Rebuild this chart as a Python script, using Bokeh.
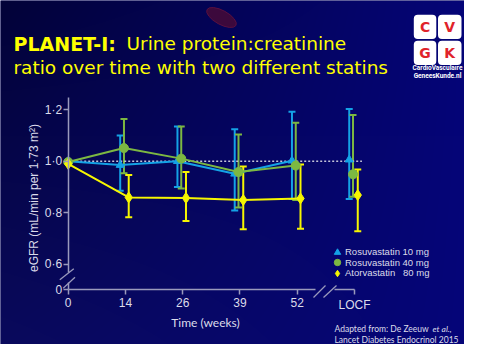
import numpy as np
from bokeh.plotting import figure
from bokeh.models import (Range1d, LinearAxis, FixedTicker, CustomJSTickFormatter, Whisker,
                          TeeHead, ColumnDataSource, Label, Legend, LegendItem, BoxAnnotation)
from bokeh.embed import file_html
from bokeh.resources import INLINE

# ---------------- data ----------------
weeks = ["0", "14", "26", "39", "52", "LOCF"]
y_ticks = [0.6, 0.8, 1.0, 1.2]
y_zero_tick = 0.5          # position that carries the "0" label below the axis break
reference_level = 1.0

rosu10 = [1.000, 0.985, 1.000, 0.951, 1.002, 1.006]
rosu10_hi = [None, 1.100, 1.135, 1.124, 1.192, 1.203]
rosu10_lo = [None, 0.885, 0.900, 0.808, 0.853, 0.853]

rosu40 = [0.997, 1.051, 1.010, 0.958, 0.983, 0.949]
rosu40_hi = [None, 1.164, 1.135, 1.104, 1.150, 1.180]
rosu40_lo = [None, 0.953, 0.894, 0.820, 0.849, 0.862]

atorva80 = [0.990, 0.859, 0.857, 0.849, 0.855, 0.868]
atorva80_hi = [None, 0.946, 0.958, 0.979, 0.987, 0.968]
atorva80_lo = [None, 0.782, 0.767, 0.735, 0.737, 0.727]

series_names = ["Rosuvastatin 10 mg", "Rosuvastatin 40 mg", "Atorvastatin\u00a0\u00a0\u00a080 mg"]

# ---------------- layout helpers (pixel position -> data) ----------------
W, H = 464, 344
X0, DX = 67.7, 57.26      # pixel x of week index 0, px per index
Y1, DY = 160.7, 257.0     # pixel y of value 1.0, px per unit


def X(sx):
    return (sx - X0) / DX


def Y(sy):
    return 1.0 - (sy - Y1) / DY


xs, xe = X(0), X(W)
ys, ye = Y(H), Y(0)

AXIS_COL = "#9a9abc"
LABEL_COL = "#dcdcea"
BLUE = "#14a2e6"
GREEN = "#7cb842"
YELLOW = "#f6f600"

p = figure(width=W, height=H, x_range=Range1d(xs, xe), y_range=Range1d(ys, ye),
           x_axis_location=None, y_axis_location=None, toolbar_location=None,
           output_backend="svg", min_border=0, outline_line_color=None)
p.grid.visible = False
p.background_fill_color = "#03035a"
p.border_fill_color = "#03035a"

# background gradient
yy, xx = np.mgrid[0:H, 0:W]
u = xx / 480.0
v = yy / 360.0
B = 56 + 66 * u + 38 * v - 38 * u * v
RG = 2 + 8 * v * (1 - u) + 3 * u
rgba = np.zeros((H, W, 4), dtype=np.uint8)
rgba[..., 0] = RG
rgba[..., 1] = RG
rgba[..., 2] = B
rgba[..., 3] = 255
img = np.ascontiguousarray(rgba.view(np.uint32).reshape(H, W)[::-1])
p.image_rgba(image=[img], x=xs, y=ys, dw=xe - xs, dh=ye - ys, level="image")

# decorative red blood cell
p.ellipse(x=[X(221)], y=[Y(17)], width=33, height=14, width_units="screen",
          height_units="screen", angle=-0.5, fill_color="#420a3a", line_color="#5a1040",
          line_width=1, fill_alpha=0.9)

# ---------------- axes ----------------
fmt_y = CustomJSTickFormatter(code="return tick == 0.5 ? '0' : tick.toFixed(1).replace('.', '\u00b7')")
fmt_x = CustomJSTickFormatter(args=dict(labels=weeks), code="return labels[Math.round(tick)]")


def style_axis(ax, standoff):
    ax.axis_line_color = AXIS_COL
    ax.axis_line_width = 1.5
    ax.major_tick_line_color = AXIS_COL
    ax.major_tick_line_width = 1.5
    ax.major_tick_in = 0
    ax.major_tick_out = 5
    ax.minor_tick_line_color = None
    ax.major_label_text_color = LABEL_COL
    ax.major_label_text_font = "Liberation Sans"
    ax.major_label_text_font_size = "12px"
    ax.major_label_standoff = standoff


main_x_ticks = list(range(len(weeks) - 1))
locf_idx = len(weeks) - 1

y_main = LinearAxis(fixed_location=0, bounds=(Y(272), Y(96.7)),
                    ticker=FixedTicker(ticks=y_ticks), formatter=fmt_y)
y_zero = LinearAxis(fixed_location=0, bounds=(y_zero_tick, Y(282)),
                    ticker=FixedTicker(ticks=[y_zero_tick]), formatter=fmt_y)
y_title = LinearAxis(fixed_location=0, bounds=(Y(291), Y(104)),
                     ticker=FixedTicker(ticks=y_ticks), formatter=fmt_y,
                     axis_label="eGFR (mL/min per 1\u00b773 m\u00b2)")
x_main = LinearAxis(fixed_location=y_zero_tick, bounds=(0, X(315)),
                    ticker=FixedTicker(ticks=main_x_ticks), formatter=fmt_x)
x_locf = LinearAxis(fixed_location=y_zero_tick, bounds=(X(334), locf_idx),
                    ticker=FixedTicker(ticks=[locf_idx]), formatter=fmt_x)
x_title = LinearAxis(fixed_location=y_zero_tick, bounds=(0, 2 * X(205)),
                     ticker=FixedTicker(ticks=main_x_ticks), formatter=fmt_x,
                     axis_label="Time (weeks)")

for ax in (y_main, y_zero, y_title):
    style_axis(ax, 1)
for ax in (x_main, x_locf, x_title):
    style_axis(ax, 3)
for ax in (y_title, x_title):
    ax.axis_line_color = None
    ax.major_tick_line_color = None
    ax.major_label_text_alpha = 0
    ax.axis_label_text_color = LABEL_COL
    ax.axis_label_text_font_style = "normal"
y_title.axis_label_text_font = "Liberation Sans"
y_title.axis_label_text_font_size = "12px"
y_title.axis_label_standoff = 23
x_title.axis_label_text_font = "Lato"
x_title.axis_label_text_font_size = "12px"
x_title.axis_label_standoff = 20

for ax in (y_main, y_zero, y_title):
    p.add_layout(ax, "left")
for ax in (x_main, x_locf, x_title):
    p.add_layout(ax, "below")

# axis break marks
p.segment(x0=[X(59.3), X(62.7)], y0=[Y(279.3), Y(287.7)], x1=[X(73.3), X(74.5)],
          y1=[Y(268.3), Y(276.7)], line_color=AXIS_COL, line_width=1.3)
p.segment(x0=[X(313), X(323)], y0=[Y(297), Y(297)], x1=[X(325), X(336)],
          y1=[Y(285), Y(285)], line_color=AXIS_COL, line_width=1.3)

# reference dotted line
p.line(x=[0, locf_idx + 0.13], y=[reference_level, reference_level],
       line_color="#c4c4d8", line_width=1.5, line_dash="2 2")

# ---------------- series ----------------
series = [
    (rosu10, rosu10_hi, rosu10_lo, BLUE, "triangle", 8, -0.092),
    (rosu40, rosu40_hi, rosu40_lo, GREEN, "circle", 9, -0.026),
    (atorva80, atorva80_hi, atorva80_lo, YELLOW, "diamond", 11, 0.057),
]

scatter_renderers = []
for vals, hi, lo, col, mk, sz, off in series:
    xpos = [i + (off if i > 0 else 0.0) for i in range(len(weeks))]
    src = ColumnDataSource(dict(x=xpos[1:], hi=hi[1:], lo=lo[1:]))
    wh = Whisker(source=src, base="x", upper="hi", lower="lo", dimension="height",
                 line_color=col, line_width=2,
                 upper_head=TeeHead(size=7, line_color=col, line_width=2),
                 lower_head=TeeHead(size=7, line_color=col, line_width=2))
    p.add_layout(wh)
    p.line(x=xpos[:locf_idx], y=vals[:locf_idx], line_color=col, line_width=2)
    r = p.scatter(x=xpos, y=vals, marker=mk, size=sz, fill_color=col, line_color=col)
    scatter_renderers.append(r)

# legend: one compact row per series (rows 10.5 px apart)
legend_row_bottoms = [84.3, 73.7, 63.3]
for name, r, yb in zip(series_names, scatter_renderers, legend_row_bottoms):
    lg = Legend(items=[LegendItem(label=name, renderers=[r])],
                location=(329, yb), background_fill_alpha=0, border_line_color=None,
                label_text_color=LABEL_COL, label_text_font="Liberation Sans",
                label_text_font_size="9.5px", glyph_width=16, glyph_height=16,
                spacing=0, padding=0, margin=0, label_standoff=0, label_height=10)
    p.add_layout(lg)

# ---------------- title ----------------
TITLE_FONT = "DejaVu Sans"
p.add_layout(Label(x=X(13), y=Y(43.3), text="PLANET-I:", text_font=TITLE_FONT,
                   text_font_style="bold", text_font_size="19px", text_color="#ffff00",
                   text_baseline="alphabetic"))
p.add_layout(Label(x=X(126), y=Y(43.3), text="Urine protein:creatinine", text_font=TITLE_FONT,
                   text_font_size="18.5px", text_color="#ffff00", text_baseline="alphabetic"))
p.add_layout(Label(x=X(13), y=Y(66.5), text="ratio over time with two different statins",
                   text_font=TITLE_FONT, text_font_size="18.5px", text_color="#ffff00",
                   text_baseline="alphabetic"))

# ---------------- logo ----------------
cells = [(413.3, 435.8, 14.3, 38.5, "C"), (437.5, 461, 14.3, 38.5, "V"),
         (413.3, 435.8, 40.2, 64.5, "G"), (437.5, 461, 40.2, 64.5, "K")]
for l, r_, t, b, letter in cells:
    p.add_layout(BoxAnnotation(left=X(l), right=X(r_), top=Y(t), bottom=Y(b),
                               fill_color="white", fill_alpha=1, line_color=None,
                               border_radius=4))
    p.add_layout(Label(x=X((l + r_) / 2), y=Y((t + b) / 2), text=letter,
                       text_font="DejaVu Sans", text_font_style="bold", text_font_size="14px",
                       text_color="#e0232a", text_align="center", text_baseline="middle"))
p.add_layout(Label(x=X(437), y=Y(67.5), text="CardioVasculaire", text_font="Roboto",
                   text_font_style="bold", text_font_size="6.5px", text_color="white",
                   text_align="center", text_baseline="middle"))
p.add_layout(Label(x=X(437), y=Y(75.7), text="GeneesKunde.nl", text_font="Roboto",
                   text_font_style="bold", text_font_size="6.5px", text_color="white",
                   text_align="center", text_baseline="middle"))

# ---------------- source note ----------------
NOTE_FONT = "Lato"
p.add_layout(Label(x=X(334), y=Y(328.5), text="Adapted from: De Zeeuw", text_font=NOTE_FONT,
                   text_font_size="8.5px", text_color=LABEL_COL, text_baseline="alphabetic"))
p.add_layout(Label(x=X(432), y=Y(328.5), text="et al.,", text_font=NOTE_FONT,
                   text_font_style="italic", text_font_size="8.5px", text_color=LABEL_COL,
                   text_baseline="alphabetic"))
p.add_layout(Label(x=X(334), y=Y(339.5), text="Lancet Diabetes Endocrinol 2015",
                   text_font=NOTE_FONT, text_font_size="8.5px", text_color=LABEL_COL,
                   text_baseline="alphabetic"))

open("out.html", "w").write(file_html(p, INLINE))
